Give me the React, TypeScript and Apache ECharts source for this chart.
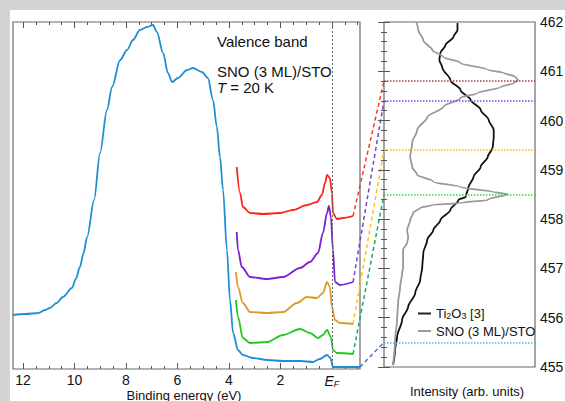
import { useEffect, useRef } from 'react';
import * as echarts from 'echarts';

const FONT = 'Liberation Sans, Arial, sans-serif';

// Binding energy axis tick labels (eV); 0 is the Fermi level E_F
const energyTickLabels = [12, 10, 8, 6, 4, 2, 0];
const energyMinorTicks = [-1, -0.5, 0, 0.5, 1, 1.5, 2, 2.5, 3, 3.5, 4, 4.5, 5, 5.5, 6, 6.5, 7, 7.5, 8, 8.5, 9, 9.5, 10, 10.5, 11, 11.5, 12];

// Valence band spectrum [binding energy (eV), intensity (arb.)]
const valenceBand: number[][] = [
  [12.39, 54], [11.9, 55], [11.4, 56], [11.15, 59], [10.95, 61], [10.7, 66], [10.45, 72], [10.1, 81], [9.95, 90],
  [9.79, 102], [9.65, 116], [9.51, 132], [9.24, 169], [9.01, 216], [8.74, 259], [8.54, 282], [8.23, 309],
  [7.96, 319], [7.73, 329], [7.46, 339], [7.18, 342], [6.95, 344], [6.8, 337], [6.56, 316], [6.37, 296],
  [6.21, 287], [5.98, 291], [5.63, 299], [5.4, 301], [5.05, 297], [4.82, 291], [4.62, 269], [4.47, 242],
  [4.35, 212], [4.23, 179], [4.08, 119], [3.96, 69], [3.84, 36], [3.65, 19], [3.46, 14], [3.07, 11],
  [2.5, 9], [1.9, 8], [1.2, 8], [0.74, 7], [0.47, 10], [0.19, 14], [0.06, 11], [-0.04, 2], [-0.5, 2], [-1.09, 2],
];

// Near-E_F spectra (offset), [binding energy (eV), intensity (arb.)]
const spectrumRed: number[][] = [
  [3.7, 202], [3.57, 176], [3.46, 162], [3.18, 156], [2.68, 155], [2.02, 156], [1.51, 159], [0.97, 164],
  [0.58, 167], [0.39, 174], [0.27, 186], [0.19, 194], [0.08, 191], [0.0, 176], [-0.04, 156], [-0.19, 150],
  [-0.43, 151], [-0.82, 153],
];
const spectrumPurple: number[][] = [
  [3.7, 137], [3.65, 119], [3.5, 102], [3.18, 92], [2.52, 90], [1.9, 92], [1.24, 101], [0.85, 107],
  [0.54, 116], [0.35, 136], [0.19, 156], [0.12, 163], [0.04, 152], [-0.04, 119], [-0.12, 87], [-0.31, 84],
  [-0.82, 87],
];
const spectrumOrange: number[][] = [
  [3.73, 97], [3.65, 82], [3.46, 66], [3.18, 57], [2.52, 56], [1.9, 57], [1.36, 66], [0.97, 72],
  [0.58, 71], [0.35, 76], [0.19, 87], [0.08, 82], [0.0, 62], [-0.12, 49], [-0.31, 46], [-0.82, 45],
];
const spectrumGreen: number[][] = [
  [3.73, 69], [3.65, 52], [3.46, 31], [3.18, 26], [2.52, 27], [1.9, 34], [1.24, 40], [0.85, 36],
  [0.54, 31], [0.35, 34], [0.19, 39], [0.04, 32], [-0.04, 19], [-0.19, 16], [-0.82, 15],
];

// Right panel: [intensity (arb.), energy (eV)]
const ti2o3Curve: number[][] = [
  [73, 461.98], [73, 461.84], [69, 461.7], [61, 461.53], [56, 461.37], [55, 461.23], [58, 461.07],
  [66, 460.82], [76, 460.62], [86, 460.42], [96, 460.22], [104, 460.01], [109, 459.81], [109, 459.67],
  [108, 459.46], [103, 459.26], [96, 459.06], [89, 458.86], [84, 458.65], [81, 458.45], [74, 458.39],
  [66, 458.19], [56, 457.98], [49, 457.78], [43, 457.58], [39, 457.31], [38, 457.03], [36, 456.77],
  [31, 456.5], [24, 456.22], [18, 455.96], [13, 455.61], [11, 455.35], [9, 455.04],
];
const snoStoCurve: number[][] = [
  [32, 462.0], [34, 461.84], [39, 461.63], [48, 461.43], [59, 461.29], [76, 461.17], [103, 461.03],
  [119, 460.97], [131, 460.88], [133, 460.82], [129, 460.76], [116, 460.68], [93, 460.56], [76, 460.46],
  [59, 460.28], [43, 460.07], [33, 459.81], [28, 459.55], [26, 459.26], [28, 459.06], [33, 458.9],
  [49, 458.76], [76, 458.65], [109, 458.55], [123, 458.51], [103, 458.39], [76, 458.33], [49, 458.29],
  [36, 458.23], [29, 458.13], [26, 457.98], [23, 457.78], [24, 457.62], [23, 457.52], [19, 457.38],
  [19, 457.17], [19, 457.01], [18, 456.91], [16, 456.62], [14, 456.3], [13, 455.96], [11, 455.55], [9, 455.04],
];

const seriesNames = ['Ti2O3 [3]', 'SNO (3 ML)/STO'];
// Energy levels marked in the right panel (red, purple, orange, green, blue)
const levelEnergies = [460.8, 460.4, 459.4, 458.5, 455.5];
const spectrumColors = ['#ff2418', '#7a22d0', '#dc9a26', '#22c81e', '#1f8fd4'];
const levelLineColors = ['#a8403c', '#8a40ee', '#ffb414', '#34dc34', '#5ab4e4'];
const connectorColors = ['#ff3626', '#7646c6', '#ffc21c', '#24a85a', '#4a70cc'];

export default function App() {
  const ref = useRef<HTMLDivElement>(null);

  useEffect(() => {
    if (!ref.current) return;
    const chart = echarts.init(ref.current, null, { renderer: 'svg' });

    const xBase: any = {
      type: 'value', gridIndex: 0, min: -1.09, max: 12.39, inverse: true,
      splitLine: { show: false }, axisLine: { show: false },
    };
    const tickLine = { color: '#555', width: 1 };
    const efLabel = {
      customValues: energyTickLabels,
      fontSize: 14, color: '#111', fontFamily: FONT, margin: 4,
      formatter: (v: number) => (v === 0 ? '{e|E}{f|F}' : String(v)),
      rich: {
        e: { fontStyle: 'italic', fontSize: 14, fontFamily: FONT, color: '#111', lineHeight: 15 },
        f: { fontStyle: 'italic', fontSize: 9, fontFamily: FONT, color: '#111', lineHeight: 10, verticalAlign: 'bottom' },
      },
    };

    const specSeries = (data: number[][], color: string, extra: any = {}) => ({
      type: 'line', data, xAxisIndex: 0, yAxisIndex: 0, symbol: 'none',
      smooth: 0.3, smoothMonotone: 'x',
      lineStyle: { color, width: 1.8 }, itemStyle: { color }, silent: true, ...extra,
    });

    const option: any = {
      animation: false,
      backgroundColor: '#d3d3d3',
      grid: [
        { left: 13, top: 22, width: 347, height: 347, show: true, borderColor: '#6a6a6a', borderWidth: 1.2, backgroundColor: '#fff', outerBoundsMode: 'none' },
        { left: 384, top: 22, width: 151, height: 345, show: true, borderColor: '#6a6a6a', borderWidth: 1.2, backgroundColor: '#fff', outerBoundsMode: 'none' },
      ],
      xAxis: [
        { ...xBase, position: 'bottom', axisTick: { inside: true, length: 3, customValues: energyMinorTicks, lineStyle: tickLine }, axisLabel: { show: false } },
        {
          ...xBase, position: 'bottom',
          axisTick: { inside: true, length: 6, customValues: energyTickLabels, lineStyle: tickLine },
          axisLabel: efLabel,
        },
        { ...xBase, position: 'top', axisTick: { inside: true, length: 3, customValues: energyMinorTicks, lineStyle: tickLine }, axisLabel: { show: false } },
        { ...xBase, position: 'top', axisTick: { inside: true, length: 6, customValues: energyTickLabels, lineStyle: tickLine }, axisLabel: { show: false } },
        { type: 'value', gridIndex: 1, min: 0, max: 150, show: false },
      ],
      yAxis: [
        { type: 'value', gridIndex: 0, min: 0, max: 347, show: false },
        {
          type: 'value', gridIndex: 1, position: 'right', min: 455, max: 462, interval: 1,
          axisLine: { show: false }, splitLine: { show: false },
          axisTick: { inside: true, length: 6, lineStyle: tickLine },
          minorTick: { show: true, splitNumber: 5, length: 3, lineStyle: tickLine },
          axisLabel: { fontSize: 14, color: '#111', fontFamily: FONT, margin: 5 },
        },
        {
          type: 'value', gridIndex: 1, position: 'left', min: 455, max: 462, interval: 1,
          axisLine: { show: false }, splitLine: { show: false },
          axisTick: { inside: true, length: 6, lineStyle: tickLine },
          minorTick: { show: true, splitNumber: 5, length: 3, lineStyle: tickLine },
          axisLabel: { show: false },
        },
      ],
      legend: {
        data: [
          { name: seriesNames[0], icon: 'rect', itemStyle: { color: '#222' } },
          { name: seriesNames[1], icon: 'rect', itemStyle: { color: '#999' } },
        ],
        left: 413, top: 302, orient: 'vertical', itemWidth: 13, itemHeight: 2, itemGap: 4,
        selectedMode: false,
        textStyle: {
          fontSize: 13, color: '#111', fontFamily: FONT,
          rich: {
            a: { fontSize: 13, color: '#111', fontFamily: FONT, lineHeight: 14 },
            s: { fontSize: 9, color: '#111', fontFamily: FONT, lineHeight: 9, verticalAlign: 'bottom' },
          },
        },
        formatter: (name: string) => (name === seriesNames[0] ? '{a|Ti}{s|2}{a|O}{s|3}{a| [3]}' : name),
      },
      graphic: [
        { id: 'paper', type: 'rect', z: -100, shape: { x: 10, y: 10, width: 555, height: 391 }, style: { fill: '#fff' }, silent: true },
        { id: 't1', type: 'text', x: 217, y: 34, style: { text: 'Valence band', fontSize: 15, fontFamily: FONT, fill: '#111', verticalAlign: 'top' } },
        { id: 't2', type: 'text', x: 217, y: 64, style: { text: 'SNO (3 ML)/STO', fontSize: 15, fontFamily: FONT, fill: '#111', verticalAlign: 'top' } },
        {
          id: 't3', type: 'text', x: 217, y: 80,
          style: {
            text: '{i|T} = 20 K', fontSize: 15, fontFamily: FONT, fill: '#111', verticalAlign: 'top',
            rich: { i: { fontStyle: 'italic', fontSize: 15, fontFamily: FONT, fill: '#111' } },
          },
        },
        { id: 't4', type: 'text', x: 467, y: 391, style: { text: 'Intensity (arb. units)', fontSize: 13, fontFamily: FONT, fill: '#111', align: 'center', verticalAlign: 'middle' } },
        { id: 't5', type: 'text', x: 184, y: 395, style: { text: 'Binding energy (eV)', fontSize: 13, fontFamily: FONT, fill: '#111', align: 'center', verticalAlign: 'middle' } },
      ],
      series: [
        specSeries(valenceBand, spectrumColors[4], {
          markLine: {
            silent: true, symbol: ['none', 'none'], label: { show: false },
            lineStyle: { color: '#666', type: [2, 2], width: 1 },
            data: [{ xAxis: 0 }],
          },
        }),
        specSeries(spectrumRed, spectrumColors[0]),
        specSeries(spectrumPurple, spectrumColors[1]),
        specSeries(spectrumOrange, spectrumColors[2]),
        specSeries(spectrumGreen, spectrumColors[3]),
        {
          name: seriesNames[0], type: 'line', data: ti2o3Curve, xAxisIndex: 4, yAxisIndex: 1, symbol: 'none',
          smooth: 0.3, smoothMonotone: 'y', lineStyle: { color: '#111', width: 1.8 }, itemStyle: { color: '#111' }, silent: true,
        },
        {
          name: seriesNames[1], type: 'line', data: snoStoCurve, xAxisIndex: 4, yAxisIndex: 1, symbol: 'none',
          smooth: 0.3, smoothMonotone: 'y', lineStyle: { color: '#999', width: 1.8 }, itemStyle: { color: '#999' }, silent: true,
          markLine: {
            silent: true, symbol: ['none', 'none'], label: { show: false },
            data: levelEnergies.map((e, i) => ({ yAxis: e, lineStyle: { color: levelLineColors[i], type: 'dotted', width: 1.5 } })),
          },
        },
      ],
    };
    chart.setOption(option);

    // Dashed connectors from each spectrum's end to its energy level in the right panel
    const spectraSeriesIdx = [1, 2, 3, 4, 0];
    const spectraData = [spectrumRed, spectrumPurple, spectrumOrange, spectrumGreen, valenceBand];
    const connectors = spectraSeriesIdx.map((si, i) => {
      const d = spectraData[i];
      const p1 = chart.convertToPixel({ seriesIndex: si }, d[d.length - 1]) as number[];
      const p2 = chart.convertToPixel({ seriesIndex: 6 }, [0, levelEnergies[i]]) as number[];
      return {
        id: 'c' + i, type: 'line', silent: true,
        shape: { x1: p1[0], y1: p1[1], x2: p2[0], y2: p2[1] },
        style: { stroke: connectorColors[i], lineWidth: 1.5, lineDash: [4, 3] },
      };
    });
    chart.setOption({ graphic: connectors });

    return () => chart.dispose();
  }, []);

  return <div ref={ref} style={{ position: 'fixed', left: 0, top: 0, width: 565, height: 401 }} />;
}
